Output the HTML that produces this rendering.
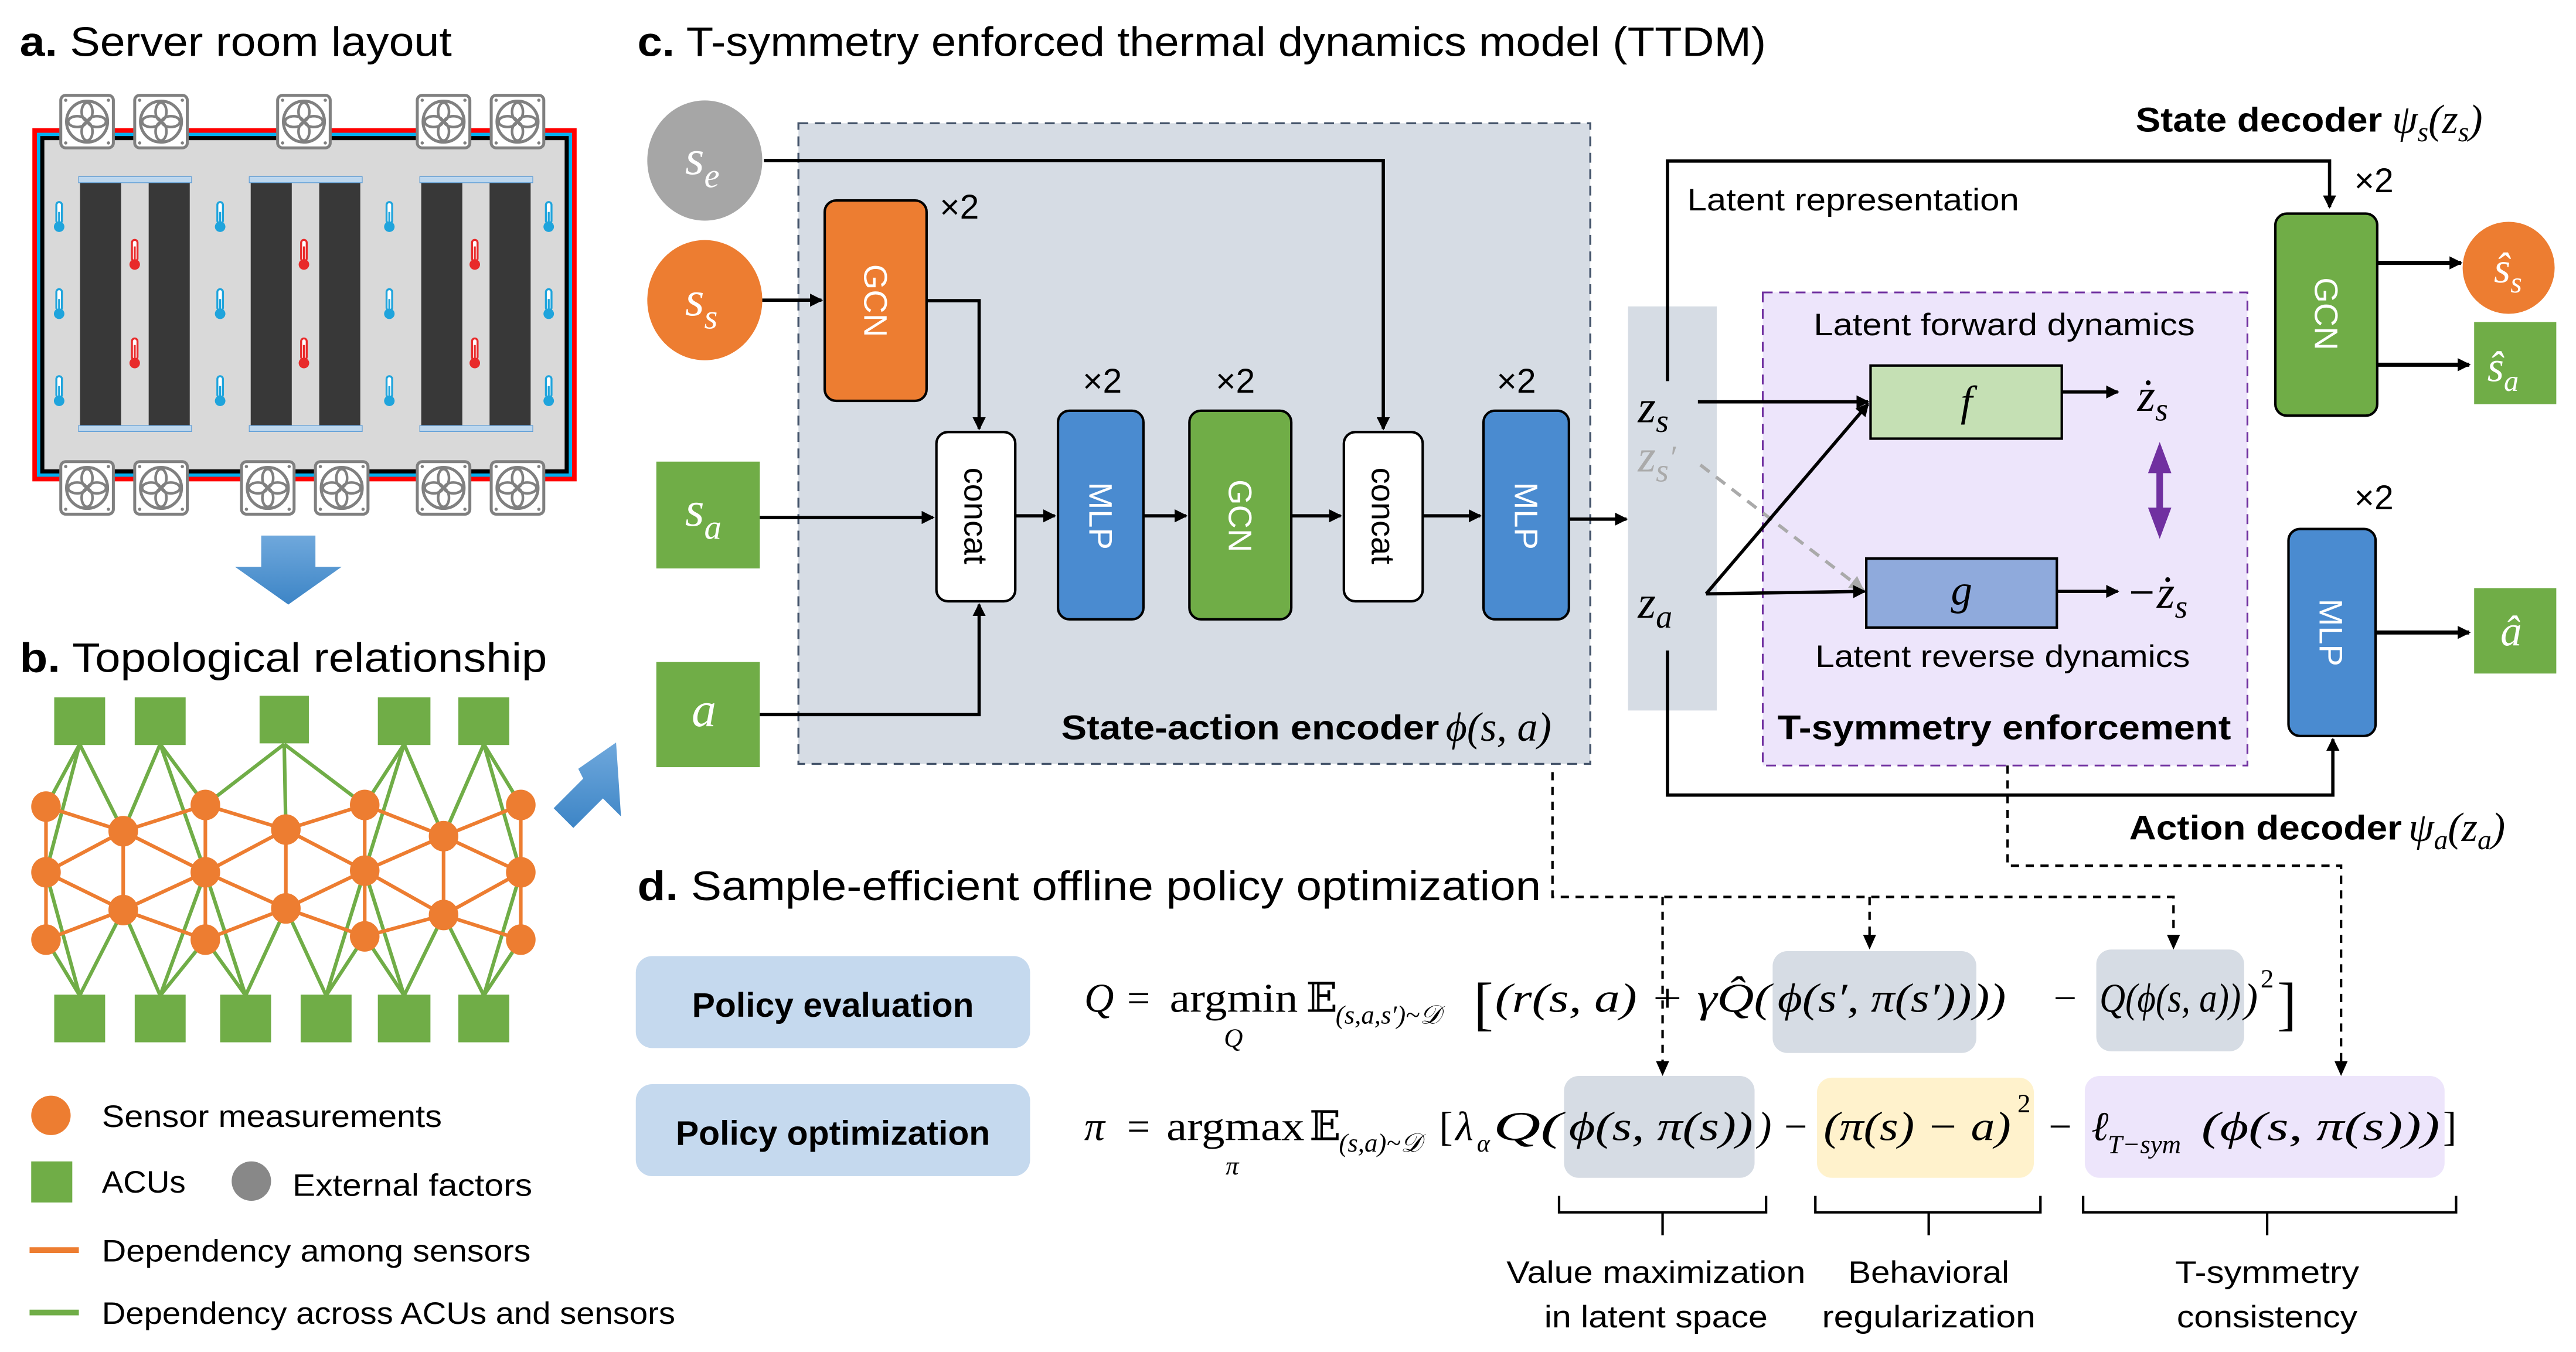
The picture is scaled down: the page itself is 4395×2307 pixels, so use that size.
<!DOCTYPE html>
<html><head><meta charset="utf-8"><style>
html,body{margin:0;padding:0;background:#fff}
svg{display:block}
text{font-family:"Liberation Sans","DejaVu Sans",sans-serif}
.m{font-family:"Liberation Serif","DejaVu Serif",serif;font-style:italic}
.r{font-family:"Liberation Serif","DejaVu Serif",serif}
</style></head><body>
<svg width="4395" height="2307" viewBox="0 0 1568 823" xmlns="http://www.w3.org/2000/svg">
<defs>
<marker id="ah" markerWidth="8" markerHeight="8" refX="7" refY="4" orient="auto" markerUnits="userSpaceOnUse"><path d="M0,0 L8,4 L0,8 z" fill="#000"/></marker>
<marker id="ahg" markerWidth="9" markerHeight="9" refX="8" refY="4.5" orient="auto" markerUnits="userSpaceOnUse"><path d="M0,0 L9,4.5 L0,9 z" fill="#aaa"/></marker>
<symbol id="fan" viewBox="0 0 34 34">
<rect x="1" y="1" width="32" height="32" rx="3" fill="#fff" stroke="#808080" stroke-width="1.8"/>
<circle cx="17" cy="17" r="12.5" fill="none" stroke="#808080" stroke-width="1.8"/>
<g fill="none" stroke="#808080" stroke-width="1.6">
<ellipse cx="17" cy="11" rx="3.3" ry="5.5"/><ellipse cx="17" cy="23" rx="3.3" ry="5.5"/>
<ellipse cx="11" cy="17" rx="5.5" ry="3.3"/><ellipse cx="23" cy="17" rx="5.5" ry="3.3"/></g>
<circle cx="17" cy="17" r="1.5" fill="#808080"/>
<circle cx="4" cy="4" r="1" fill="#808080"/><circle cx="30" cy="4" r="1" fill="#808080"/>
<circle cx="4" cy="30" r="1" fill="#808080"/><circle cx="30" cy="30" r="1" fill="#808080"/>
</symbol>
<symbol id="thb" viewBox="0 0 8 20"><rect x="2.3" y="1" width="3.4" height="13" rx="1.7" fill="#fff" stroke="#1fa4dc" stroke-width="1.2"/><circle cx="4" cy="16" r="3.2" fill="#1fa4dc"/><rect x="3.4" y="7" width="1.2" height="8" fill="#1fa4dc"/></symbol>
<symbol id="thr" viewBox="0 0 8 20"><rect x="2.3" y="1" width="3.4" height="13" rx="1.7" fill="#fff" stroke="#e82a2a" stroke-width="1.2"/><circle cx="4" cy="16" r="3.2" fill="#e82a2a"/><rect x="3.4" y="5" width="1.2" height="10" fill="#e82a2a"/></symbol>
<linearGradient id="bg" x1="0" y1="0" x2="0" y2="1"><stop offset="0" stop-color="#6fa8dc"/><stop offset="1" stop-color="#3d85c6"/></linearGradient>
</defs>

<!-- Panel a -->
<text x="12" y="34" font-size="25" textLength="263" lengthAdjust="spacingAndGlyphs"><tspan font-weight="bold">a.</tspan> Server room layout</text>
<rect x="19.7" y="78" width="331.3" height="215" fill="#ff0000"/>
<rect x="22.5" y="80.8" width="325.7" height="209.4" fill="#00b0f0"/>
<rect x="24.5" y="82.8" width="321.7" height="205.4" fill="#000"/>
<rect x="27" y="85.3" width="316.7" height="200.4" fill="#d9d9d9"/>
<g fill="#383838">
<rect x="48.7" y="111" width="25" height="148"/><rect x="90.5" y="111" width="25" height="148"/>
<rect x="152.6" y="111" width="25" height="148"/><rect x="194.3" y="111" width="25" height="148"/>
<rect x="256.4" y="111" width="25" height="148"/><rect x="298" y="111" width="25" height="148"/>
</g>
<g fill="#bdd7ee" stroke="#5b9bd5" stroke-width="0.4">
<rect x="47.8" y="107.5" width="68.8" height="3.7"/><rect x="47.8" y="259" width="68.8" height="3.7"/>
<rect x="151.7" y="107.5" width="68.8" height="3.7"/><rect x="151.7" y="259" width="68.8" height="3.7"/>
<rect x="255.5" y="107.5" width="68.8" height="3.7"/><rect x="255.5" y="259" width="68.8" height="3.7"/>
</g>
<g>
<use href="#thb" x="32" y="122" width="8" height="20"/><use href="#thb" x="32" y="175" width="8" height="20"/><use href="#thb" x="32" y="228" width="8" height="20"/>
<use href="#thb" x="130" y="122" width="8" height="20"/><use href="#thb" x="130" y="175" width="8" height="20"/><use href="#thb" x="130" y="228" width="8" height="20"/>
<use href="#thb" x="233" y="122" width="8" height="20"/><use href="#thb" x="233" y="175" width="8" height="20"/><use href="#thb" x="233" y="228" width="8" height="20"/>
<use href="#thb" x="330" y="122" width="8" height="20"/><use href="#thb" x="330" y="175" width="8" height="20"/><use href="#thb" x="330" y="228" width="8" height="20"/>
<use href="#thr" x="78" y="145" width="8" height="20"/><use href="#thr" x="78" y="205" width="8" height="20"/>
<use href="#thr" x="181" y="145" width="8" height="20"/><use href="#thr" x="181" y="205" width="8" height="20"/>
<use href="#thr" x="285" y="145" width="8" height="20"/><use href="#thr" x="285" y="205" width="8" height="20"/>
</g>
<g>
<use href="#fan" x="36" y="57" width="34" height="34"/><use href="#fan" x="81" y="57" width="34" height="34"/>
<use href="#fan" x="168" y="57" width="34" height="34"/><use href="#fan" x="253" y="57" width="34" height="34"/>
<use href="#fan" x="298" y="57" width="34" height="34"/>
<use href="#fan" x="36" y="280" width="34" height="34"/><use href="#fan" x="81" y="280" width="34" height="34"/>
<use href="#fan" x="146" y="280" width="34" height="34"/><use href="#fan" x="191" y="280" width="34" height="34"/>
<use href="#fan" x="253" y="280" width="34" height="34"/><use href="#fan" x="298" y="280" width="34" height="34"/>
</g>
<path d="M159,326 H192 V345 H208 L175.5,368 L143,345 H159 Z" fill="url(#bg)"/>

<!-- Panel b -->
<text x="12" y="409" font-size="25" textLength="321" lengthAdjust="spacingAndGlyphs"><tspan font-weight="bold">b.</tspan> Topological relationship</text>
<g stroke="#70ad47" stroke-width="2.2">
<line x1="48.5" y1="453" x2="28" y2="491"/><line x1="48.5" y1="453" x2="28" y2="531"/><line x1="48.5" y1="453" x2="75" y2="506"/>
<line x1="97.5" y1="453" x2="75" y2="506"/><line x1="97.5" y1="453" x2="125" y2="490"/><line x1="97.5" y1="453" x2="125" y2="531"/>
<line x1="173" y1="453" x2="125" y2="490"/><line x1="173" y1="453" x2="174" y2="505"/><line x1="173" y1="453" x2="222" y2="490"/>
<line x1="246" y1="453" x2="222" y2="490"/><line x1="246" y1="453" x2="222" y2="530"/><line x1="246" y1="453" x2="270" y2="509"/>
<line x1="294.5" y1="453" x2="270" y2="509"/><line x1="294.5" y1="453" x2="317" y2="490"/><line x1="294.5" y1="453" x2="317" y2="531"/>
<line x1="48.5" y1="606" x2="28" y2="572"/><line x1="48.5" y1="606" x2="28" y2="531"/><line x1="48.5" y1="606" x2="75" y2="554"/>
<line x1="97.5" y1="606" x2="75" y2="554"/><line x1="97.5" y1="606" x2="125" y2="531"/><line x1="97.5" y1="606" x2="125" y2="572"/>
<line x1="149.5" y1="606" x2="125" y2="572"/><line x1="149.5" y1="606" x2="125" y2="531"/><line x1="149.5" y1="606" x2="174" y2="553"/>
<line x1="198.5" y1="606" x2="174" y2="553"/><line x1="198.5" y1="606" x2="222" y2="530"/><line x1="198.5" y1="606" x2="222" y2="570"/>
<line x1="246" y1="606" x2="222" y2="570"/><line x1="246" y1="606" x2="222" y2="530"/><line x1="246" y1="606" x2="270" y2="557"/>
<line x1="294.5" y1="606" x2="270" y2="557"/><line x1="294.5" y1="606" x2="317" y2="531"/><line x1="294.5" y1="606" x2="317" y2="572"/>
</g>
<g stroke="#ed7d31" stroke-width="2.2">
<line x1="28" y1="491" x2="28" y2="572"/><line x1="125" y1="490" x2="125" y2="572"/><line x1="222" y1="490" x2="222" y2="570"/><line x1="317" y1="490" x2="317" y2="572"/>
<line x1="75" y1="506" x2="75" y2="554"/><line x1="174" y1="505" x2="174" y2="553"/><line x1="270" y1="509" x2="270" y2="557"/>
<line x1="28" y1="491" x2="75" y2="506"/><line x1="28" y1="531" x2="75" y2="506"/><line x1="28" y1="531" x2="75" y2="554"/><line x1="28" y1="572" x2="75" y2="554"/>
<line x1="125" y1="490" x2="75" y2="506"/><line x1="125" y1="531" x2="75" y2="506"/><line x1="125" y1="531" x2="75" y2="554"/><line x1="125" y1="572" x2="75" y2="554"/>
<line x1="125" y1="490" x2="174" y2="505"/><line x1="125" y1="531" x2="174" y2="505"/><line x1="125" y1="531" x2="174" y2="553"/><line x1="125" y1="572" x2="174" y2="553"/>
<line x1="222" y1="490" x2="174" y2="505"/><line x1="222" y1="530" x2="174" y2="505"/><line x1="222" y1="530" x2="174" y2="553"/><line x1="222" y1="570" x2="174" y2="553"/>
<line x1="222" y1="490" x2="270" y2="509"/><line x1="222" y1="530" x2="270" y2="509"/><line x1="222" y1="530" x2="270" y2="557"/><line x1="222" y1="570" x2="270" y2="557"/>
<line x1="317" y1="490" x2="270" y2="509"/><line x1="317" y1="531" x2="270" y2="509"/><line x1="317" y1="531" x2="270" y2="557"/><line x1="317" y1="572" x2="270" y2="557"/>
</g>
<g fill="#ed7d31">
<ellipse cx="28" cy="491" rx="9" ry="9.3"/><ellipse cx="28" cy="531" rx="9" ry="9.3"/><ellipse cx="28" cy="572" rx="9" ry="9.3"/>
<ellipse cx="75" cy="506" rx="9" ry="9.3"/><ellipse cx="75" cy="554" rx="9" ry="9.3"/>
<ellipse cx="125" cy="490" rx="9" ry="9.3"/><ellipse cx="125" cy="531" rx="9" ry="9.3"/><ellipse cx="125" cy="572" rx="9" ry="9.3"/>
<ellipse cx="174" cy="505" rx="9" ry="9.3"/><ellipse cx="174" cy="553" rx="9" ry="9.3"/>
<ellipse cx="222" cy="490" rx="9" ry="9.3"/><ellipse cx="222" cy="530" rx="9" ry="9.3"/><ellipse cx="222" cy="570" rx="9" ry="9.3"/>
<ellipse cx="270" cy="509" rx="9" ry="9.3"/><ellipse cx="270" cy="557" rx="9" ry="9.3"/>
<ellipse cx="317" cy="490" rx="9" ry="9.3"/><ellipse cx="317" cy="531" rx="9" ry="9.3"/><ellipse cx="317" cy="572" rx="9" ry="9.3"/>
</g>
<g fill="#70ad47">
<rect x="33" y="424.5" width="31" height="29"/><rect x="82" y="424.5" width="31" height="29"/><rect x="158" y="423.5" width="30" height="29"/>
<rect x="230" y="424.5" width="32" height="29"/><rect x="279" y="424.5" width="31" height="29"/>
<rect x="33" y="605.5" width="31" height="29"/><rect x="82" y="605.5" width="31" height="29"/><rect x="134" y="605.5" width="31" height="29"/>
<rect x="183" y="605.5" width="31" height="29"/><rect x="230" y="605.5" width="32" height="29"/><rect x="279" y="605.5" width="31" height="29"/>
</g>
<path d="M352,468 L375,452 L378,497 L367,486 L349,504 L337,492 L355,474 Z" fill="url(#bg)"/>

<!-- legend -->
<circle cx="31" cy="679" r="12" fill="#ed7d31"/>
<text x="62" y="686" font-size="19" textLength="207" lengthAdjust="spacingAndGlyphs">Sensor measurements</text>
<rect x="19" y="707" width="25" height="25" fill="#70ad47"/>
<text x="62" y="726" font-size="19" textLength="51" lengthAdjust="spacingAndGlyphs">ACUs</text>
<circle cx="153" cy="719" r="12" fill="#888"/>
<text x="178" y="728" font-size="19" textLength="146" lengthAdjust="spacingAndGlyphs">External factors</text>
<line x1="18" y1="761" x2="48" y2="761" stroke="#ed7d31" stroke-width="3.5"/>
<text x="62" y="768" font-size="19" textLength="261" lengthAdjust="spacingAndGlyphs">Dependency among sensors</text>
<line x1="18" y1="799" x2="48" y2="799" stroke="#70ad47" stroke-width="3.5"/>
<text x="62" y="806" font-size="19" textLength="349" lengthAdjust="spacingAndGlyphs">Dependency across ACUs and sensors</text>

<!-- Panel c -->
<text x="388" y="34" font-size="25" textLength="687" lengthAdjust="spacingAndGlyphs"><tspan font-weight="bold">c.</tspan> T-symmetry enforced thermal dynamics model (TTDM)</text>
<rect x="486" y="75" width="482" height="390" fill="#d6dce4" stroke="#44546a" stroke-width="1.2" stroke-dasharray="6,4"/>

<ellipse cx="429" cy="97.7" rx="35" ry="36.6" fill="#a6a6a6"/>
<text x="417" y="106" font-size="30" class="m" fill="#fff">s<tspan font-size="21" dy="8">e</tspan></text>
<ellipse cx="429" cy="182.7" rx="35" ry="36.6" fill="#ed7d31"/>
<text x="417" y="192" font-size="30" class="m" fill="#fff">s<tspan font-size="21" dy="8">s</tspan></text>
<rect x="399.5" y="281" width="63" height="65" fill="#70ad47"/>
<text x="417" y="320" font-size="30" class="m" fill="#fff">s<tspan font-size="21" dy="8">a</tspan></text>
<rect x="399.5" y="403" width="63" height="64" fill="#70ad47"/>
<text x="421" y="442" font-size="30" class="m" fill="#fff">a</text>

<g stroke="#000" stroke-width="2" fill="none">
<polyline points="465,97.7 842,97.7 842,261" marker-end="url(#ah)"/>
<line x1="464" y1="182.7" x2="500" y2="182.7" marker-end="url(#ah)"/>
<polyline points="564,183 596,183 596,261" marker-end="url(#ah)"/>
<line x1="462.5" y1="315" x2="568" y2="315" marker-end="url(#ah)"/>
<polyline points="462.5,435 596,435 596,368" marker-end="url(#ah)"/>
<line x1="618" y1="314" x2="642" y2="314" marker-end="url(#ah)"/>
<line x1="696" y1="314" x2="722" y2="314" marker-end="url(#ah)"/>
<line x1="786" y1="314" x2="816" y2="314" marker-end="url(#ah)"/>
<line x1="866" y1="314" x2="901" y2="314" marker-end="url(#ah)"/>
<line x1="955" y1="316" x2="990" y2="316" marker-end="url(#ah)"/>
</g>
<rect x="502" y="122" width="62" height="122" rx="7" fill="#ed7d31" stroke="#000" stroke-width="1.5"/>
<text transform="translate(533,183) rotate(90)" text-anchor="middle" y="7" font-size="20" fill="#fff">GCN</text>
<text x="572" y="133" font-size="21">×2</text>
<rect x="570" y="263" width="48" height="103" rx="7" fill="#fff" stroke="#000" stroke-width="1.5"/>
<text transform="translate(594,314) rotate(90)" text-anchor="middle" y="7" font-size="20">concat</text>
<rect x="644" y="250" width="52" height="127" rx="7" fill="#4a8bd0" stroke="#000" stroke-width="1.5"/>
<text transform="translate(670,314) rotate(90)" text-anchor="middle" y="7" font-size="20" fill="#fff">MLP</text>
<text x="659" y="239" font-size="21">×2</text>
<rect x="724" y="250" width="62" height="127" rx="7" fill="#70ad47" stroke="#000" stroke-width="1.5"/>
<text transform="translate(755,314) rotate(90)" text-anchor="middle" y="7" font-size="20" fill="#fff">GCN</text>
<text x="740" y="239" font-size="21">×2</text>
<rect x="818" y="263" width="48" height="103" rx="7" fill="#fff" stroke="#000" stroke-width="1.5"/>
<text transform="translate(842,314) rotate(90)" text-anchor="middle" y="7" font-size="20">concat</text>
<rect x="903" y="250" width="52" height="127" rx="7" fill="#4a8bd0" stroke="#000" stroke-width="1.5"/>
<text transform="translate(929,314) rotate(90)" text-anchor="middle" y="7" font-size="20" fill="#fff">MLP</text>
<text x="911" y="239" font-size="21">×2</text>
<text x="646" y="450" font-size="21" font-weight="bold" textLength="230" lengthAdjust="spacingAndGlyphs">State-action encoder</text>
<text x="880" y="451" font-size="25" class="m">ϕ(s, a)</text>

<!-- latent -->
<rect x="991" y="186.5" width="54" height="246" fill="#d6dce4"/>
<g stroke="#000" stroke-width="2" fill="none">
<polyline points="1015,232 1015,98 1418,98 1418,126" marker-end="url(#ah)"/>
<polyline points="1015,396 1015,484 1420,484 1420,450" marker-end="url(#ah)"/>
</g>
<text x="1027" y="128" font-size="19" textLength="202" lengthAdjust="spacingAndGlyphs">Latent representation</text>

<rect x="1073" y="178" width="295" height="288" fill="#ede5fb" stroke="#7030a0" stroke-width="1.1" stroke-dasharray="6,4"/>
<text x="1220" y="204" text-anchor="middle" font-size="19" textLength="232" lengthAdjust="spacingAndGlyphs">Latent forward dynamics</text>
<text x="1219" y="406" text-anchor="middle" font-size="19" textLength="228" lengthAdjust="spacingAndGlyphs">Latent reverse dynamics</text>
<text x="1220" y="450" text-anchor="middle" font-size="21" font-weight="bold" textLength="276" lengthAdjust="spacingAndGlyphs">T-symmetry enforcement</text>
<rect x="1138.6" y="222.5" width="116.4" height="44.5" fill="#c5e0b4" stroke="#000" stroke-width="1.5"/>
<text x="1197" y="253" text-anchor="middle" font-size="26" class="m">f</text>
<rect x="1136" y="340" width="116" height="42" fill="#8faadc" stroke="#000" stroke-width="1.5"/>
<text x="1194" y="368" text-anchor="middle" font-size="26" class="m">g</text>

<text x="997" y="257" font-size="28" class="m">z<tspan font-size="20" dy="6">s</tspan></text>
<text x="997" y="287" font-size="28" class="m" fill="#aaa">z<tspan font-size="20" dy="6">s</tspan><tspan dy="-8" font-size="20">′</tspan></text>
<text x="997" y="376" font-size="28" class="m">z<tspan font-size="20" dy="6">a</tspan></text>
<line x1="1035" y1="283" x2="1134" y2="359" stroke="#aaa" stroke-width="2" stroke-dasharray="7,5" marker-end="url(#ahg)"/>
<g stroke="#000" stroke-width="2" fill="none">
<line x1="1033.5" y1="244.6" x2="1137" y2="244.6" marker-end="url(#ah)"/>
<line x1="1038.5" y1="361.5" x2="1137" y2="246" marker-end="url(#ah)"/>
<line x1="1038.5" y1="361.5" x2="1135" y2="360" marker-end="url(#ah)"/>
<line x1="1255" y1="238.6" x2="1289" y2="238.6" marker-end="url(#ah)"/>
<line x1="1252" y1="360" x2="1289" y2="360" marker-end="url(#ah)"/>
</g>
<text x="1301" y="250" font-size="28" class="m">ż<tspan font-size="20" dy="6">s</tspan></text>
<text x="1294" y="370" font-size="28" class="m">−ż<tspan font-size="20" dy="6">s</tspan></text>
<line x1="1314.6" y1="284" x2="1314.6" y2="313" stroke="#7030a0" stroke-width="4"/>
<path d="M1307.5,288 L1314.6,269 L1321.7,288 Z M1307.5,309 L1314.6,328 L1321.7,309 Z" fill="#7030a0"/>

<!-- decoders -->
<text x="1300" y="80" font-size="21" font-weight="bold" textLength="150" lengthAdjust="spacingAndGlyphs">State decoder</text>
<text x="1456" y="81" font-size="25" class="m">ψ<tspan font-size="17" dy="5">s</tspan><tspan dy="-5">(z</tspan><tspan font-size="17" dy="5">s</tspan><tspan dy="-5">)</tspan></text>
<rect x="1385" y="130" width="62" height="123" rx="7" fill="#70ad47" stroke="#000" stroke-width="1.5"/>
<text transform="translate(1416,191) rotate(90)" text-anchor="middle" y="7" font-size="20" fill="#fff">GCN</text>
<text x="1433" y="117" font-size="21">×2</text>
<g stroke="#000" stroke-width="2.5">
<line x1="1447" y1="160" x2="1498" y2="160" marker-end="url(#ah)"/>
<line x1="1447" y1="222" x2="1503" y2="222" marker-end="url(#ah)"/>
<line x1="1446" y1="385" x2="1503" y2="385" marker-end="url(#ah)"/>
</g>
<circle cx="1527" cy="163" r="28" fill="#ed7d31"/>
<text x="1518" y="172" font-size="26" class="m" fill="#fff">ŝ<tspan font-size="18" dy="6">s</tspan></text>
<rect x="1506" y="196" width="50" height="50" fill="#70ad47"/>
<text x="1514" y="232" font-size="26" class="m" fill="#fff">ŝ<tspan font-size="18" dy="6">a</tspan></text>
<rect x="1393" y="322" width="53" height="126" rx="7" fill="#4a8bd0" stroke="#000" stroke-width="1.5"/>
<text transform="translate(1419,385) rotate(90)" text-anchor="middle" y="7" font-size="20" fill="#fff">MLP</text>
<text x="1433" y="310" font-size="21">×2</text>
<rect x="1506" y="358" width="50" height="52" fill="#70ad47"/>
<text x="1522" y="393" font-size="26" class="m" fill="#fff">â</text>
<text x="1296" y="511" font-size="21" font-weight="bold" textLength="166" lengthAdjust="spacingAndGlyphs">Action decoder</text>
<text x="1466" y="512" font-size="25" class="m">ψ<tspan font-size="17" dy="5">a</tspan><tspan dy="-5">(z</tspan><tspan font-size="17" dy="5">a</tspan><tspan dy="-5">)</tspan></text>

<!-- panel d -->
<text x="388" y="548" font-size="25" textLength="550" lengthAdjust="spacingAndGlyphs"><tspan font-weight="bold">d.</tspan> Sample-efficient offline policy optimization</text>
<rect x="387" y="582" width="240" height="56" rx="10" fill="#c5d9ee"/>
<text x="507" y="619" text-anchor="middle" font-size="21" font-weight="bold">Policy evaluation</text>
<rect x="387" y="660" width="240" height="56" rx="10" fill="#c5d9ee"/>
<text x="507" y="697" text-anchor="middle" font-size="21" font-weight="bold">Policy optimization</text>

<rect x="1079" y="579" width="124" height="62" rx="9" fill="#d6dce4"/>
<rect x="1276" y="578" width="90" height="62" rx="9" fill="#d6dce4"/>
<rect x="952" y="655" width="116" height="62" rx="9" fill="#d6dce4"/>
<rect x="1106" y="656" width="132" height="61" rx="9" fill="#fff2cc"/>
<rect x="1269" y="655" width="219" height="62" rx="9" fill="#ede5fb"/>

<g stroke="#000" stroke-width="1.5" fill="none" stroke-dasharray="5,4">
<polyline points="945,470 945,546 1323,546 1323,572"/>
<line x1="1012" y1="546" x2="1012" y2="650"/>
<line x1="1138" y1="546" x2="1138" y2="572"/>
<polyline points="1222,466 1222,527 1425,527 1425,650"/>
</g>
<g fill="#000">
<path d="M1008,646 L1016,646 L1012,655 Z"/><path d="M1134,569 L1142,569 L1138,578 Z"/>
<path d="M1319,569 L1327,569 L1323,578 Z"/><path d="M1421,646 L1429,646 L1425,655 Z"/>
</g>

<g font-size="25">
<text x="660" y="616" class="m">Q</text>
<text x="686" y="616" class="r">=</text>
<text x="712" y="616" class="r" textLength="78" lengthAdjust="spacingAndGlyphs">argmin</text>
<text x="745" y="637" class="m" font-size="16">Q</text>
<text x="795" y="616" class="r">𝔼</text>
<text x="813" y="623" class="m" font-size="16">(s,a,s′)~𝒟</text>
<text x="897" y="623" class="r" font-size="36">[</text>
<text x="910" y="616" class="m" textLength="168" lengthAdjust="spacingAndGlyphs">(r(s, a) + γQ̂(</text>
<text x="1082" y="616" class="m" textLength="118" lengthAdjust="spacingAndGlyphs">ϕ(s′, π(s′))</text>
<text x="1201" y="616" class="m" textLength="20" lengthAdjust="spacingAndGlyphs">))</text>
<text x="1250" y="616" class="r">−</text>
<text x="1278" y="616" class="m" textLength="86" lengthAdjust="spacingAndGlyphs">Q(ϕ(s, a))</text>
<text x="1366" y="616" class="m">)</text>
<text x="1376" y="601" class="r" font-size="16">2</text>
<text x="1386" y="623" class="r" font-size="36">]</text>

<text x="660" y="694" class="m">π</text>
<text x="686" y="694" class="r">=</text>
<text x="710" y="694" class="r" textLength="84" lengthAdjust="spacingAndGlyphs">argmax</text>
<text x="746" y="715" class="m" font-size="16">π</text>
<text x="797" y="694" class="r">𝔼</text>
<text x="815" y="701" class="m" font-size="16">(s,a)~𝒟</text>
<text x="876" y="694" class="r">[</text>
<text x="886" y="694" class="m">λ</text>
<text x="899" y="701" class="m" font-size="15">α</text>
<text x="909" y="694" class="m" textLength="42" lengthAdjust="spacingAndGlyphs">Q(</text>
<text x="955" y="694" class="m" textLength="112" lengthAdjust="spacingAndGlyphs">ϕ(s, π(s))</text>
<text x="1070" y="694" class="m">)</text>
<text x="1086" y="694" class="r">−</text>
<text x="1110" y="694" class="m" textLength="114" lengthAdjust="spacingAndGlyphs">(π(s) − a)</text>
<text x="1228" y="677" class="r" font-size="16">2</text>
<text x="1247" y="694" class="r">−</text>
<text x="1273" y="694" class="m">ℓ</text>
<text x="1283" y="702" class="m" font-size="16">T−sym</text>
<text x="1340" y="694" class="m" textLength="145" lengthAdjust="spacingAndGlyphs">(ϕ(s, π(s)))</text>
<text x="1487" y="694" class="r">]</text>
</g>

<g stroke="#000" stroke-width="1.5" fill="none">
<path d="M949,728 V738 H1075 V728 M1012,738 V752"/>
<path d="M1105,728 V738 H1242 V728 M1174,738 V752"/>
<path d="M1268,728 V738 H1495 V728 M1380,738 V752"/>
</g>
<g font-size="19" text-anchor="middle">
<text x="1008" y="781" textLength="182" lengthAdjust="spacingAndGlyphs">Value maximization</text><text x="1008" y="808" textLength="136" lengthAdjust="spacingAndGlyphs">in latent space</text>
<text x="1174" y="781" textLength="98" lengthAdjust="spacingAndGlyphs">Behavioral</text><text x="1174" y="808" textLength="130" lengthAdjust="spacingAndGlyphs">regularization</text>
<text x="1380" y="781" textLength="112" lengthAdjust="spacingAndGlyphs">T-symmetry</text><text x="1380" y="808" textLength="110" lengthAdjust="spacingAndGlyphs">consistency</text>
</g>
</svg>
</body></html>
